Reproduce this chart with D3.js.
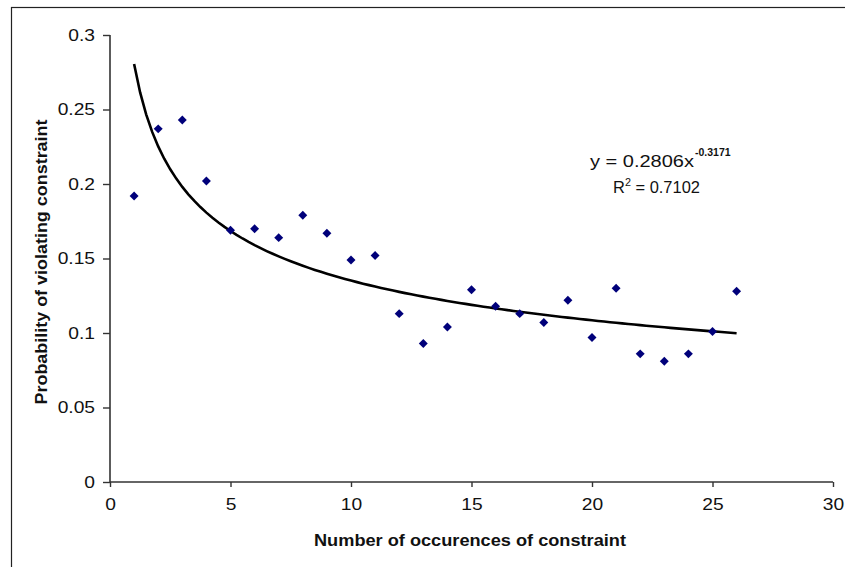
<!DOCTYPE html>
<html>
<head>
<meta charset="utf-8">
<script src="https://cdn.jsdelivr.net/npm/d3@7"></script>
<style>
  html, body { margin: 0; padding: 0; background: #fff; }
  svg { display: block; }
  text { font-family: "Liberation Sans", Arial, sans-serif; fill: #111; }
</style>
</head>
<body>
<svg id="chart" width="845" height="567"></svg>
<script>
// ---- data ----
const occurrences = [1, 2, 3, 4, 5, 6, 7, 8, 9, 10, 11, 12, 13, 14, 15, 16, 17, 18, 19, 20, 21, 22, 23, 24, 25, 26];
const probability = [0.192, 0.237, 0.243, 0.202, 0.169, 0.170, 0.164, 0.179, 0.167, 0.149, 0.152, 0.113, 0.093, 0.104, 0.129, 0.118, 0.113, 0.107, 0.122, 0.097, 0.130, 0.086, 0.081, 0.086, 0.101, 0.128];
const xTicks = [0, 5, 10, 15, 20, 25, 30];
const yTicks = [0, 0.05, 0.1, 0.15, 0.2, 0.25, 0.3];
const yTickLabels = ["0", "0.05", "0.1", "0.15", "0.2", "0.25", "0.3"];
// power trendline as printed on the chart: y = a * x^b
const trendA = 0.2806;
const trendB = -0.3171;
const trendR2 = "0.7102";
const xTitle = "Number of occurences of constraint";
const yTitle = "Probability of violating constraint";

// ---- layout ----
const svg = d3.select("#chart");
const x = d3.scaleLinear().domain([0, 30]).range([110, 833]);
const y = d3.scaleLinear().domain([0, 0.3]).range([482, 35]);
const SX = 1.2; // horizontal stretch of the text in the reference

// outer frame (cropped at right and bottom)
svg.append("rect").attr("x", 11.5).attr("y", 7.5).attr("width", 900).attr("height", 700)
  .attr("fill", "none").attr("stroke", "#222").attr("stroke-width", 1.2);

function stretch(sel, f) {
  sel.each(function () {
    const w = this.getComputedTextLength();
    d3.select(this).attr("textLength", w * f).attr("lengthAdjust", "spacingAndGlyphs");
  });
}

// y axis
const yAxis = svg.append("g").attr("transform", "translate(110,0)")
  .call(d3.axisLeft(y).tickValues(yTicks).tickSize(7).tickPadding(8)
    .tickFormat((d, i) => yTickLabels[i]));
// x axis
const xAxis = svg.append("g").attr("transform", "translate(0,482)")
  .call(d3.axisBottom(x).tickValues(xTicks).tickSize(5).tickPadding(12));

[yAxis, xAxis].forEach(g => {
  g.select(".domain").attr("stroke", "#333").attr("stroke-width", 1.6);
  g.selectAll(".tick line").attr("stroke", "#333").attr("stroke-width", 1.4);
  g.selectAll(".tick text").attr("font-size", 16).attr("fill", "#333")
    .style("font-family", "'Liberation Sans', Arial, sans-serif");
});
yAxis.select(".domain").attr("d", `M0,${y(0.3)}V${y(0)}`);
xAxis.select(".domain").attr("d", `M${x(0)},0H${x(30)}`);
stretch(yAxis.selectAll(".tick text"), SX);
stretch(xAxis.selectAll(".tick text"), SX);

// trendline from the printed equation
const trendXs = d3.range(1, 26.001, 0.25);
const line = d3.line().x(d => x(d)).y(d => y(trendA * Math.pow(d, trendB)));
svg.append("path").datum(trendXs).attr("d", line)
  .attr("fill", "none").attr("stroke", "#000").attr("stroke-width", 2.6);

// markers
const diamond = d3.symbol().type(d3.symbolSquare).size(40);
svg.append("g").selectAll("path").data(occurrences).join("path")
  .attr("d", diamond)
  .attr("transform", (d, i) => `translate(${x(d)},${y(probability[i])}) rotate(45)`)
  .attr("fill", "#00007a");

// equation label
const eq = svg.append("text").attr("x", 590).attr("y", 167).attr("font-size", 16).attr("fill", "#333");
eq.append("tspan").text("y = 0.2806x");
svg.append("text").attr("x", 695).attr("y", 156).attr("font-size", 10.5).attr("font-weight", "bold")
  .attr("fill", "#333").text("-0.3171");
const r2 = svg.append("text").attr("x", 613).attr("y", 193).attr("font-size", 16).attr("fill", "#333");
r2.append("tspan").text("R");
r2.append("tspan").attr("font-size", 10.5).attr("dy", -7).text("2");
r2.append("tspan").attr("dy", 7).text(" = " + trendR2);
eq.attr("textLength", 104).attr("lengthAdjust", "spacingAndGlyphs");
r2.attr("textLength", 87).attr("lengthAdjust", "spacingAndGlyphs");

// axis titles
svg.append("text").attr("x", 470).attr("y", 546).attr("text-anchor", "middle")
  .attr("font-size", 17).attr("font-weight", "bold").attr("fill", "#111")
  .attr("textLength", 312).attr("lengthAdjust", "spacingAndGlyphs").text(xTitle);
svg.append("text").attr("transform", "translate(47,262) rotate(-90)").attr("text-anchor", "middle")
  .attr("font-size", 17).attr("font-weight", "bold").attr("fill", "#111")
  .attr("textLength", 285).attr("lengthAdjust", "spacingAndGlyphs").text(yTitle);
</script>
</body>
</html>
